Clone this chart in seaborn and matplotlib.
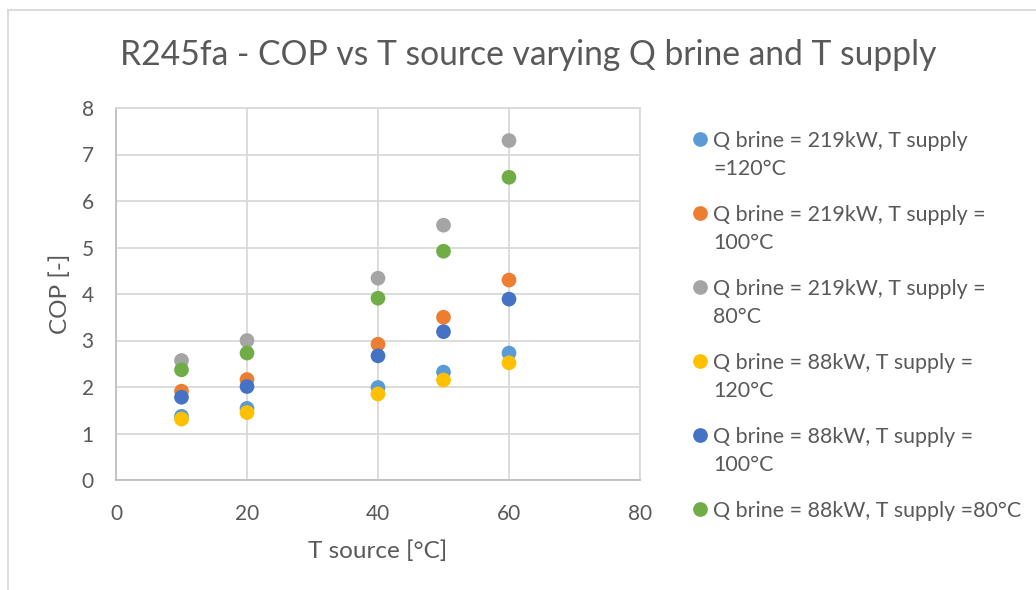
import numpy as np
import pandas as pd
import matplotlib
matplotlib.use("Agg")
import matplotlib.pyplot as plt
from matplotlib.lines import Line2D
import seaborn as sns

# ---- data ----
t_source = [10, 20, 40, 50, 60]
series_labels = [
    "Q brine = 219kW, T supply\n=120°C",
    "Q brine = 219kW, T supply =\n100°C",
    "Q brine = 219kW, T supply =\n80°C",
    "Q brine = 88kW, T supply =\n120°C",
    "Q brine = 88kW, T supply =\n100°C",
    "Q brine = 88kW, T supply =80°C",
]
cop_219_120 = [1.37, 1.54, 1.99, 2.32, 2.73]
cop_219_100 = [1.91, 2.16, 2.92, 3.50, 4.30]
cop_219_80 = [2.57, 3.00, 4.34, 5.48, 7.30]
cop_88_120 = [1.31, 1.45, 1.85, 2.15, 2.52]
cop_88_100 = [1.78, 2.01, 2.67, 3.19, 3.89]
cop_88_80 = [2.37, 2.73, 3.91, 4.92, 6.51]
colors = ["#5B9BD5", "#ED7D31", "#A5A5A5", "#FFC000", "#4472C4", "#70AD47"]
x_ticks = [0, 20, 40, 60, 80]
y_ticks = [0, 1, 2, 3, 4, 5, 6, 7, 8]

all_cop = [cop_219_120, cop_219_100, cop_219_80, cop_88_120, cop_88_100, cop_88_80]
rows = []
for lab, vals in zip(series_labels, all_cop):
    for x, v in zip(t_source, vals):
        rows.append({"T": x, "COP": v, "series": lab})
df = pd.DataFrame(rows)

sns.set_theme(style="white")
plt.rcParams['font.family'] = ['Lato', 'DejaVu Sans']
TXT = "#595959"
GRID = "#D9D9D9"

W, H = 1036, 590
fig = plt.figure(figsize=(W / 100, H / 100), dpi=100)
ax = fig.add_axes([116 / W, 1 - 480 / H, (640 - 116) / W, (480 - 108) / H])

sns.scatterplot(data=df, x="T", y="COP", hue="series", hue_order=series_labels,
                palette=colors, s=112, linewidth=0, alpha=1, legend=False, ax=ax,
                zorder=3)

ax.set_xlim(0, 80)
ax.set_ylim(0, 8)
ax.set_xticks(x_ticks)
ax.set_yticks(y_ticks)
ax.grid(True, color=GRID, linewidth=1.3)
ax.set_axisbelow(True)
for sp in ax.spines.values():
    sp.set_color(GRID)
    sp.set_linewidth(1.3)
ax.spines['bottom'].set_color("#BFBFBF")
ax.spines['left'].set_color("#BFBFBF")
ax.tick_params(axis='both', length=0, labelsize=15, colors=TXT)
ax.tick_params(axis='x', pad=17)
ax.tick_params(axis='y', pad=16)
ax.set_xlabel("T source [°C]", fontsize=17.5, color=TXT, labelpad=12)
ax.set_ylabel("COP [-]", fontsize=17.5, color=TXT, labelpad=8)

fig.text(528 / W, 1 - 55 / H, "R245fa - COP vs T source varying Q brine and T supply",
         ha='center', va='center', fontsize=24.2, color=TXT)

# legend (manual, marker aligned with first line)
y0 = 139
step = 74.0
line_h = 27.7
for i, (lab, c) in enumerate(zip(series_labels, colors)):
    yc = y0 + i * step
    fig.add_artist(Line2D([700 / W], [1 - yc / H], marker='o', markersize=10.6,
                          color=c, markeredgewidth=0, linestyle='none',
                          transform=fig.transFigure))
    for j, part in enumerate(lab.split("\n")):
        fig.text(713 / W, 1 - (yc + j * line_h) / H, part, ha='left',
                 va='center_baseline', fontsize=15.4, color=TXT)

# chart border (left and top edges visible)
fig.add_artist(Line2D([8 / W, 8 / W], [0, 1 - 10 / H], color=GRID, linewidth=1.3,
                      transform=fig.transFigure))
fig.add_artist(Line2D([8 / W, 1], [1 - 10 / H, 1 - 10 / H], color=GRID, linewidth=1.3,
                      transform=fig.transFigure))

fig.savefig("out.png", dpi=100)
